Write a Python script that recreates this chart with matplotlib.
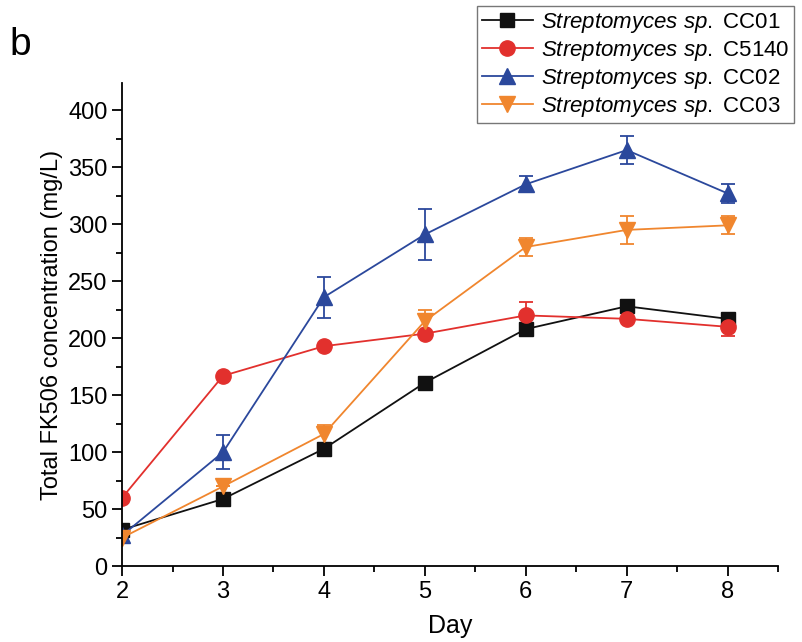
import matplotlib.pyplot as plt
from matplotlib.lines import Line2D
from matplotlib.ticker import MultipleLocator

plt.rcParams['font.family'] = ['Liberation Sans', 'DejaVu Sans']
plt.rcParams['mathtext.fontset'] = 'custom'
plt.rcParams['mathtext.rm'] = 'Liberation Sans'
plt.rcParams['mathtext.it'] = 'Liberation Sans:italic'

days = [2, 3, 4, 5, 6, 7, 8]

cc01 = [32, 59, 103, 161, 208, 228, 217]
cc01_err = [0, 0, 0, 0, 5, 0, 4]
c5140 = [60, 167, 193, 204, 220, 217, 210]
c5140_err = [0, 0, 0, 0, 12, 0, 8]
cc02 = [27, 100, 236, 291, 335, 365, 327]
cc02_err = [0, 15, 18, 22, 7, 12, 8]
cc03 = [25, 70, 116, 215, 280, 295, 299]
cc03_err = [0, 0, 8, 10, 8, 12, 8]

names = ['CC01', 'C5140', 'CC02', 'CC03']

fig = plt.figure(figsize=(8.03, 6.42), dpi=100)
ax = fig.add_axes([0.152, 0.118, 0.817, 0.753])

series = [
    (cc01, cc01_err, '#111111', 's', 10),
    (c5140, c5140_err, '#E2302D', 'o', 11),
    (cc02, cc02_err, '#2B489C', '^', 12),
    (cc03, cc03_err, '#F0862E', 'v', 12),
]
handles = []
for (vals, errs, col, mk, ms), name in zip(series, names):
    ax.errorbar(days, vals, yerr=errs, color=col, marker=mk, markersize=ms,
                linewidth=1.3, elinewidth=1.3, capsize=5, capthick=1.3)
    handles.append(Line2D([], [], color=col, marker=mk, markersize=ms,
                          linewidth=1.3,
                          label=r'$\it{Streptomyces\ sp.}$' + ' ' + name))

ax.set_xlim(2, 8.5)
ax.set_ylim(0, 424)
ax.xaxis.set_major_locator(MultipleLocator(1))
ax.xaxis.set_minor_locator(MultipleLocator(0.5))
ax.yaxis.set_major_locator(MultipleLocator(50))
ax.yaxis.set_minor_locator(MultipleLocator(25))
ax.set_xticks([2, 3, 4, 5, 6, 7, 8])
ax.tick_params(which='major', length=7, width=1.3, labelsize=17, direction='out')
ax.tick_params(which='minor', length=4, width=1.3, direction='out')
ax.spines['top'].set_visible(False)
ax.spines['right'].set_visible(False)
ax.spines['left'].set_linewidth(1.3)
ax.spines['bottom'].set_linewidth(1.3)
ax.set_xlabel('Day', fontsize=18, labelpad=8)
ax.set_ylabel('Total FK506 concentration (mg/L)', fontsize=17)

leg = fig.legend(handles=handles, loc='upper right',
                 bbox_to_anchor=(0.994, 0.997), fontsize=16,
                 frameon=True, fancybox=False, edgecolor='#555555',
                 handlelength=2.3, handletextpad=0.35, borderpad=0.2,
                 labelspacing=0.18, borderaxespad=0.2)
leg.get_frame().set_linewidth(1.0)

fig.text(0.012, 0.915, 'b', fontsize=28)

fig.savefig('out.png', dpi=100)
